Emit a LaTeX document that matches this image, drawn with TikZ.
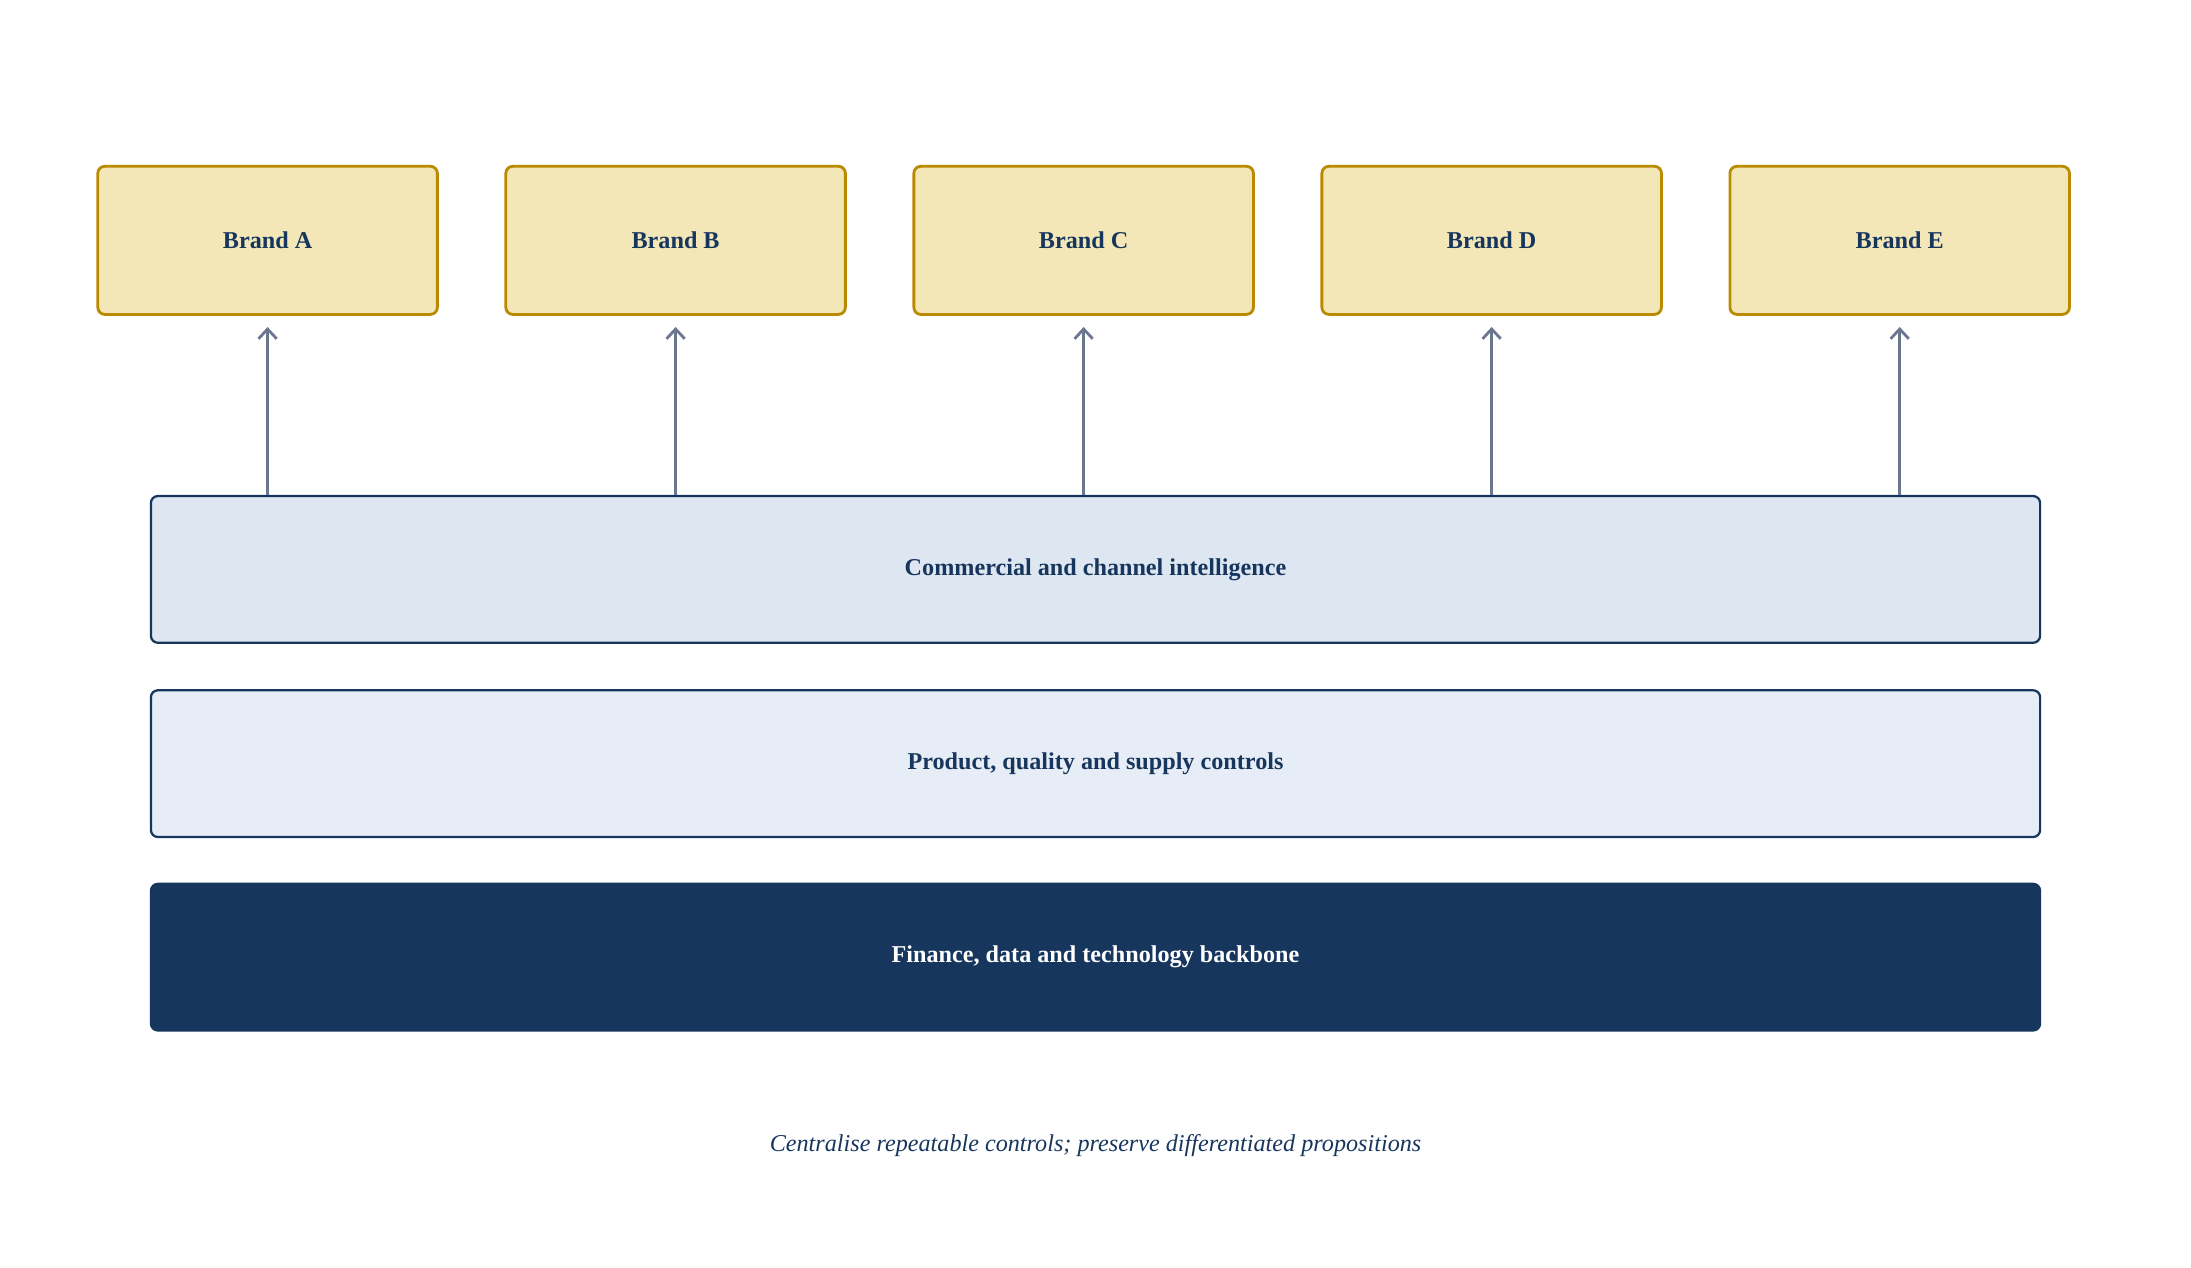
\documentclass[tikz,border=0pt]{standalone}
\usepackage{fontspec}
\setmainfont{Liberation Serif}
\usepackage{tikz}
\usetikzlibrary{arrows.meta}
\definecolor{brandfill}{HTML}{F3E7B8}
\definecolor{brandline}{HTML}{BA8A00}
\definecolor{navy}{HTML}{17365D}
\definecolor{commfill}{HTML}{DEE7F1}
\definecolor{prodfill}{HTML}{E6EDF6}
\definecolor{arrowgray}{HTML}{6B778D}
\tikzset{
  brandbox/.style={draw=brandline,fill=brandfill,line width=1pt,rounded corners=2.5pt,
    minimum width=121.5pt,minimum height=53pt,font=\fontsize{8.65}{10}\selectfont\bfseries,text=navy},
  layerbox/.style={draw=navy,line width=0.8pt,rounded corners=2.5pt,
    minimum width=676pt,minimum height=52.5pt,font=\fontsize{8.65}{10}\selectfont\bfseries,text=navy},
  uparrow/.style={draw=arrowgray,line width=1pt,-{Straight Barb[length=3.5pt,width=6.5pt]},shorten >=4pt}
}
\begin{document}
\begin{tikzpicture}[x=0.5pt,y=0.5pt]
        \useasboundingbox (0,0) rectangle (1568,907);
        \foreach \b [count=\i from 0] in {A,B,C,D,E}
            \node[brandbox] (brand\b) at (191.5+292*\i,735) {Brand \b};
        \node[layerbox,fill=commfill] (commercial) at (784,499.5) {Commercial and channel intelligence};
        \node[layerbox,fill=prodfill] (product) at (784,360.5) {Product, quality and supply controls};
        \node[layerbox,fill=navy,text=white] (finance) at (784,222) {Finance, data and technology backbone};
        \node[font=\fontsize{8.65}{10}\selectfont\itshape,text=navy] (caption) at (784,87)
            {Centralise repeatable controls; preserve differentiated propositions};
        \foreach \b in {A,B,C,D,E}
            \draw[uparrow] (commercial.north -| brand\b.south) -- (brand\b.south);
    \end{tikzpicture}
\end{document}
